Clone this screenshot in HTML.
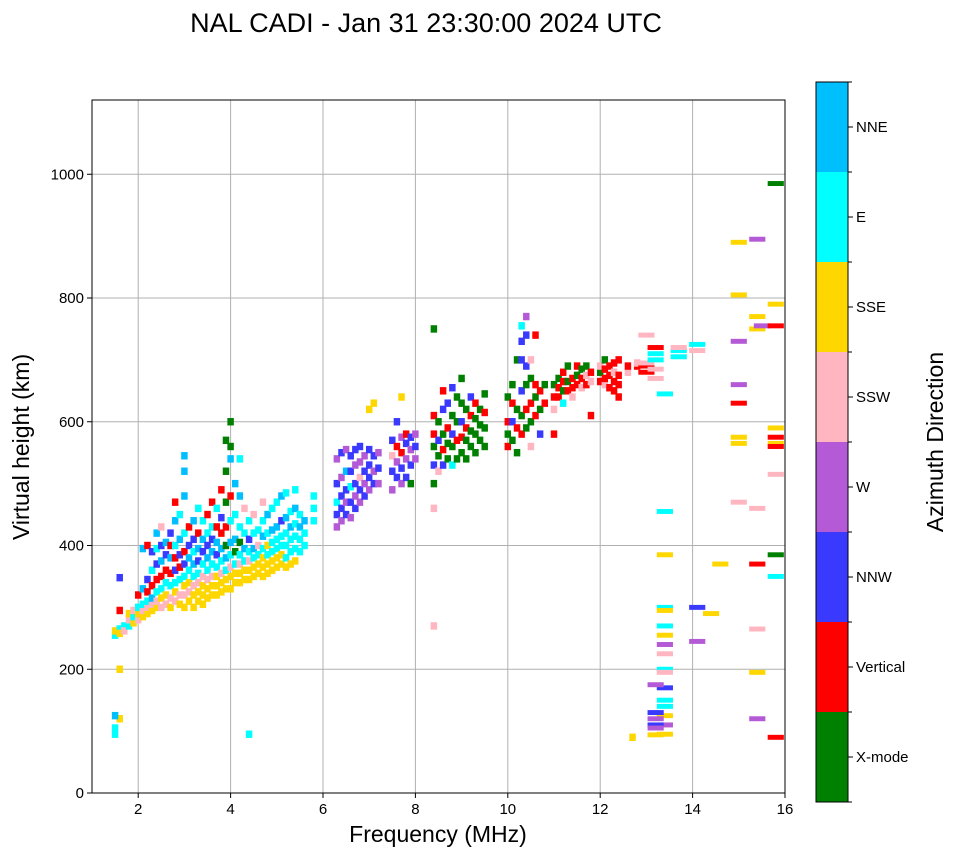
<!DOCTYPE html>
<html><head><meta charset="utf-8"><style>
body{margin:0;background:#fff;}
svg text{font-family:"Liberation Sans","DejaVu Sans",sans-serif;}
</style></head><body>
<svg id="chart" width="958" height="857" xmlns="http://www.w3.org/2000/svg">
<text x="426" y="32" font-size="27" text-anchor="middle">NAL CADI - Jan 31 23:30:00 2024 UTC</text>
<g id="grid"></g>
<g id="marks"></g>
<rect x="92" y="100" width="693" height="693" fill="none" stroke="#000" stroke-width="1"/>
<g id="axes"></g>
<text x="438" y="842" font-size="23" text-anchor="middle">Frequency (MHz)</text>
<text transform="translate(29,447) rotate(-90)" font-size="23" text-anchor="middle">Virtual height (km)</text>
<g id="cbar"></g>
<text transform="translate(943,442) rotate(-90)" font-size="23" text-anchor="middle">Azimuth Direction</text>
</svg>
<script>
const xTicks=[2,4,6,8,10,12,14,16];
const yTicks=[0,200,400,600,800,1000];
const modeNames=["X-mode","Vertical","NNW","W","SSW","SSE","E","NNE"];
const modeColors=["#008000","#ff0000","#3a3aff","#b55ad6","#ffb6c1","#ffd700","#00ffff","#00bfff"];
const marks=[
[1.5,255,6],[1.5,262,5],[1.6,265,6],[1.6,258,5],[1.7,270,6],[1.7,262,4],[1.5,105,6],[1.5,95,6],[1.6,120,5],[1.5,125,7],[1.6,200,5],[1.6,348,2],[1.6,295,1],
[1.8,270,6],[1.8,280,4],[1.8,290,5],[1.9,275,5],[1.9,285,6],[1.9,295,4],
[2.0,280,4],[2.0,290,5],[2.0,300,6],[2.0,320,1],
[2.1,285,5],[2.1,295,4],[2.1,305,6],[2.1,330,7],[2.1,395,7],
[2.2,290,5],[2.2,300,4],[2.2,310,6],[2.2,325,1],[2.2,345,2],[2.2,400,1],
[2.3,295,5],[2.3,305,4],[2.3,315,7],[2.3,335,1],[2.3,360,6],[2.3,390,2],
[2.4,300,5],[2.4,310,4],[2.4,325,6],[2.4,345,1],[2.4,370,2],[2.4,395,6],[2.4,420,7],
[2.5,300,4],[2.5,315,5],[2.5,330,6],[2.5,350,1],[2.5,375,7],[2.5,400,2],[2.5,430,4],
[2.6,305,4],[2.6,320,5],[2.6,340,6],[2.6,360,1],[2.6,385,2],[2.6,405,7],
[2.7,300,5],[2.7,315,4],[2.7,335,6],[2.7,355,1],[2.7,380,7],[2.7,400,1],[2.7,420,2],
[2.8,310,4],[2.8,325,5],[2.8,340,6],[2.8,360,2],[2.8,380,1],[2.8,400,6],[2.8,440,7],[2.8,470,1],
[2.9,305,5],[2.9,320,4],[2.9,345,6],[2.9,365,1],[2.9,385,2],[2.9,410,7],[2.9,450,6],
[3.0,300,5],[3.0,320,4],[3.0,335,5],[3.0,350,6],[3.0,370,2],[3.0,390,1],[3.0,420,6],[3.0,480,7],[3.0,520,7],[3.0,545,7],
[3.1,310,5],[3.1,325,4],[3.1,340,5],[3.1,360,6],[3.1,380,7],[3.1,400,2],[3.1,430,1],
[3.2,300,5],[3.2,320,5],[3.2,335,4],[3.2,350,6],[3.2,370,7],[3.2,390,6],[3.2,410,2],[3.2,440,7],
[3.3,310,5],[3.3,325,5],[3.3,340,4],[3.3,355,6],[3.3,375,2],[3.3,395,7],[3.3,420,1],[3.3,460,6],
[3.4,305,5],[3.4,320,5],[3.4,335,5],[3.4,350,4],[3.4,370,6],[3.4,390,2],[3.4,410,7],[3.4,440,6],
[3.5,315,5],[3.5,330,5],[3.5,345,4],[3.5,360,6],[3.5,380,7],[3.5,400,2],[3.5,420,6],[3.5,450,1],
[3.6,320,5],[3.6,335,5],[3.6,350,4],[3.6,370,6],[3.6,390,7],[3.6,410,2],[3.6,430,6],[3.6,470,1],
[3.7,320,5],[3.7,335,5],[3.7,350,5],[3.7,365,6],[3.7,385,2],[3.7,405,7],[3.7,430,1],[3.7,460,6],
[3.8,325,5],[3.8,340,5],[3.8,355,4],[3.8,375,6],[3.8,395,7],[3.8,420,1],[3.8,445,2],[3.8,490,1],
[3.9,330,5],[3.9,345,5],[3.9,360,6],[3.9,380,7],[3.9,400,0],[3.9,430,1],[3.9,470,0],[3.9,520,0],[3.9,570,0],
[4.0,330,5],[4.0,350,5],[4.0,365,4],[4.0,385,6],[4.0,405,7],[4.0,440,6],[4.0,480,1],[4.0,540,7],[4.0,600,0],[4.0,560,0],
[4.1,340,5],[4.1,355,5],[4.1,370,6],[4.1,390,0],[4.1,410,7],[4.1,450,6],[4.1,500,7],
[4.2,340,5],[4.2,355,5],[4.2,370,4],[4.2,385,6],[4.2,405,0],[4.2,430,6],[4.2,480,7],[4.2,540,6],
[4.3,345,5],[4.3,360,5],[4.3,375,6],[4.3,395,7],[4.3,420,6],[4.3,460,4],
[4.4,345,5],[4.4,360,5],[4.4,375,4],[4.4,390,6],[4.4,410,2],[4.4,440,6],[4.4,95,6],
[4.5,350,5],[4.5,365,5],[4.5,380,6],[4.5,395,7],[4.5,420,6],[4.5,450,4],
[4.6,355,5],[4.6,370,5],[4.6,385,6],[4.6,400,4],[4.6,425,6],
[4.7,350,5],[4.7,365,5],[4.7,380,5],[4.7,395,6],[4.7,415,7],[4.7,440,6],[4.7,470,4],
[4.8,355,5],[4.8,370,5],[4.8,385,6],[4.8,400,5],[4.8,420,6],[4.8,450,7],
[4.9,360,5],[4.9,375,5],[4.9,390,6],[4.9,405,6],[4.9,425,7],[4.9,460,6],
[5.0,365,5],[5.0,380,5],[5.0,395,6],[5.0,410,6],[5.0,430,7],[5.0,470,6],
[5.1,370,5],[5.1,385,5],[5.1,400,6],[5.1,415,6],[5.1,440,2],[5.1,480,7],
[5.2,365,5],[5.2,380,6],[5.2,400,6],[5.2,420,6],[5.2,445,7],[5.2,485,6],
[5.3,370,5],[5.3,390,6],[5.3,410,6],[5.3,430,7],[5.3,455,6],
[5.4,375,5],[5.4,395,6],[5.4,415,6],[5.4,435,6],[5.4,460,7],[5.4,490,6],
[5.5,390,6],[5.5,410,6],[5.5,430,7],[5.5,450,6],[5.6,400,6],[5.6,420,6],[5.6,440,7],
[5.8,440,6],[5.8,460,6],[5.8,480,6],
[6.3,430,3],[6.3,450,2],[6.3,470,6],[6.3,500,2],[6.3,540,3],
[6.4,440,3],[6.4,460,2],[6.4,480,2],[6.4,510,3],[6.4,550,2],
[6.5,450,2],[6.5,470,3],[6.5,490,2],[6.5,520,7],[6.5,555,3],
[6.6,445,3],[6.6,470,2],[6.6,495,6],[6.6,520,2],[6.6,545,2],
[6.7,460,2],[6.7,480,3],[6.7,500,2],[6.7,530,3],[6.7,555,2],
[6.8,470,3],[6.8,490,2],[6.8,510,4],[6.8,535,3],[6.8,560,2],
[6.9,480,2],[6.9,500,3],[6.9,520,2],[6.9,545,3],
[7.0,490,3],[7.0,510,2],[7.0,530,2],[7.0,555,2],[7.0,620,5],
[7.1,500,2],[7.1,520,3],[7.1,545,2],[7.1,630,5],[7.2,500,3],[7.2,525,2],[7.2,550,3],
[7.5,490,3],[7.5,520,2],[7.5,545,4],[7.5,570,2],
[7.6,510,2],[7.6,535,3],[7.6,560,1],[7.6,600,2],
[7.7,500,3],[7.7,525,2],[7.7,550,1],[7.7,575,3],[7.7,640,5],
[7.8,510,2],[7.8,540,3],[7.8,565,2],[7.8,580,1],
[7.9,500,0],[7.9,530,2],[7.9,555,3],[7.9,575,2],[8.0,540,3],[8.0,560,2],[8.0,580,3],
[8.4,500,0],[8.4,530,2],[8.4,560,0],[8.4,580,1],[8.4,610,1],[8.4,750,0],[8.4,460,4],[8.4,270,4],
[8.5,520,4],[8.5,545,0],[8.5,570,2],[8.5,600,0],
[8.6,530,2],[8.6,555,1],[8.6,580,0],[8.6,620,2],[8.6,650,1],
[8.7,540,0],[8.7,565,0],[8.7,590,1],[8.7,630,2],
[8.8,530,6],[8.8,560,0],[8.8,580,2],[8.8,610,0],[8.8,655,2],
[8.9,540,0],[8.9,570,1],[8.9,600,0],[8.9,640,0],
[9.0,550,0],[9.0,575,1],[9.0,600,2],[9.0,630,0],[9.0,670,0],
[9.1,540,0],[9.1,570,0],[9.1,590,1],[9.1,620,0],
[9.2,560,0],[9.2,585,0],[9.2,610,1],[9.2,640,2],
[9.3,550,0],[9.3,580,0],[9.3,605,0],[9.3,630,1],
[9.4,570,0],[9.4,595,0],[9.4,620,0],[9.5,560,0],[9.5,590,0],[9.5,615,1],[9.5,645,0],
[10.0,560,1],[10.0,580,0],[10.0,600,1],[10.0,640,0],
[10.1,570,0],[10.1,600,2],[10.1,630,1],[10.1,660,0],
[10.2,550,0],[10.2,590,1],[10.2,620,0],[10.2,700,0],
[10.3,580,1],[10.3,610,0],[10.3,650,2],[10.3,700,2],[10.3,730,2],[10.3,755,6],
[10.4,590,0],[10.4,620,1],[10.4,660,0],[10.4,690,2],[10.4,740,2],[10.4,770,3],
[10.5,600,0],[10.5,630,1],[10.5,670,0],[10.5,700,4],[10.5,560,4],
[10.6,610,1],[10.6,640,0],[10.6,660,1],[10.6,740,1],[10.7,620,0],[10.7,650,1],[10.7,580,2],
[10.8,630,1],[10.8,660,0],
[11.0,640,1],[11.0,660,0],[11.0,580,1],[11.0,620,4],
[11.1,640,1],[11.1,655,1],[11.1,670,0],[11.2,650,0],[11.2,665,1],[11.2,680,1],[11.2,630,6],
[11.3,650,1],[11.3,665,0],[11.3,690,0],[11.4,655,1],[11.4,670,1],[11.4,640,4],
[11.5,660,1],[11.5,675,0],[11.5,690,1],[11.6,655,4],[11.6,670,1],[11.6,685,0],
[11.7,660,1],[11.7,675,4],[11.7,690,0],[11.8,665,4],[11.8,680,1],[11.8,610,1],
[12.0,665,1],[12.0,680,0],[12.0,690,4],[12.1,660,4],[12.1,670,1],[12.1,685,1],[12.1,700,0],
[12.2,655,1],[12.2,675,1],[12.2,690,1],[12.3,650,1],[12.3,665,1],[12.3,680,4],[12.3,695,1],
[12.4,640,1],[12.4,660,1],[12.4,675,1],[12.4,700,1],
[12.6,680,4],[12.6,690,1],[12.8,690,1],[12.8,695,4],
[13.0,680,1],[13.0,690,1],[13.0,695,4],[13.0,740,4],
[13.2,685,4],[13.2,700,6],[13.2,720,1],[13.2,670,4],[13.2,710,6],
[13.4,645,6],[13.4,300,6],[13.4,295,5],[13.4,270,6],[13.4,255,5],[13.4,240,3],[13.4,225,4],[13.4,200,6],[13.4,195,4],[13.4,170,2],[13.4,150,6],[13.4,140,6],[13.4,125,5],[13.4,110,3],[13.4,95,5],[13.4,385,5],[13.4,455,6],
[13.2,120,3],[13.2,130,2],[13.2,110,2],[13.2,105,3],[13.2,175,3],[13.2,94,5],
[13.7,705,6],[13.7,715,6],[13.7,720,4],[14.1,715,4],[14.1,725,6],[14.1,300,2],[14.1,245,3],
[14.4,290,5],[14.6,370,5],[12.7,90,5],
[15.0,890,5],[15.0,805,5],[15.0,730,3],[15.0,660,3],[15.0,630,1],[15.0,575,5],[15.0,565,5],[15.0,470,4],
[15.4,895,3],[15.4,770,5],[15.4,750,5],[15.4,460,4],[15.4,370,1],[15.4,265,4],[15.4,195,5],[15.4,120,3],[15.5,755,3],
[15.8,985,0],[15.8,790,5],[15.8,755,1],[15.8,590,5],[15.8,575,1],[15.8,565,5],[15.8,560,1],[15.8,515,4],[15.8,385,0],[15.8,350,6],[15.8,90,1]
];
const NS="http://www.w3.org/2000/svg";
const X0=92,X1=785,Y0=793,Y1=100,FMIN=1,FMAX=16,HMIN=0,HMAX=1120;
function xs(f){return X0+(f-FMIN)/(FMAX-FMIN)*(X1-X0);}
function ys(h){return Y0-(h-HMIN)/(HMAX-HMIN)*(Y0-Y1);}
function mk(tag,a,parent){const e=document.createElementNS(NS,tag);for(const k in a)e.setAttribute(k,a[k]);parent.appendChild(e);return e;}
const grid=document.getElementById('grid'),axes=document.getElementById('axes'),mg=document.getElementById('marks'),cb=document.getElementById('cbar');
xTicks.forEach(t=>{const x=xs(t);
 const g=mk('line',{x1:x,x2:x,y1:Y1,y2:Y0,stroke:'#b0b0b0','stroke-width':1},grid);
 
 
 const tk=mk('line',{x1:x,x2:x,y1:Y0,y2:Y0+5,stroke:'#000'},axes);
 
 
 const tx=mk('text',{x:x,y:Y0+21,'font-size':15,'text-anchor':'middle'},axes);tx.textContent=t;
 
 
});
yTicks.forEach(t=>{const y=ys(t);
 const g=mk('line',{x1:X0,x2:X1,y1:y,y2:y,stroke:'#b0b0b0','stroke-width':1},grid);
 
 
 const tk=mk('line',{x1:X0-5,x2:X0,y1:y,y2:y,stroke:'#000'},axes);
 
 
 const tx=mk('text',{x:X0-8,y:y+5,'font-size':15,'text-anchor':'end'},axes);tx.textContent=t;
 
 
});
marks.forEach(m=>{const f=m[0],h=m[1],c=m[2];
 const wMHz=f>=13?0.35:0.14;
 const hk=f>=13?4:6;
 const x=xs(f-wMHz/2),w=xs(f+wMHz/2)-x,y=ys(h+hk),hh=ys(h-hk)-y;
 const r=mk('rect',{x:x,y:y,width:w,height:hh,fill:modeColors[c]},mg);
 
 
});
const CX=816,CW=32,CT=82,CB=802,seg=(CB-CT)/modeNames.length;
modeNames.forEach((n,i)=>{const y=CB-(i+1)*seg;
 const r=mk('rect',{x:CX,y:y,width:CW,height:seg,fill:modeColors[i]},cb);
 
 
 const tk=mk('line',{x1:CX+CW,x2:CX+CW+5,y1:y+seg/2,y2:y+seg/2,stroke:'#000'},cb);
 
 
 const tx=mk('text',{x:CX+CW+8,y:y+seg/2+5,'font-size':15},cb);tx.textContent=n;
 
 
});
for(let i=0;i<=modeNames.length;i++){const y=CB-i*seg;
 const tk=mk('line',{x1:CX+CW,x2:CX+CW+4,y1:y,y2:y,stroke:'#000'},cb);
 
 
}
const fr=mk('rect',{x:CX,y:CT,width:CW,height:CB-CT,fill:'none',stroke:'#000'},cb);


</script>
</body></html>
